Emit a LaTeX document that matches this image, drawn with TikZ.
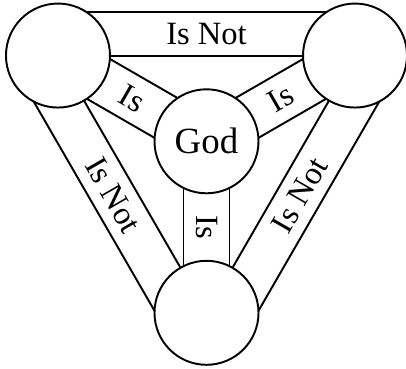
\documentclass[tikz,border=0pt]{standalone}
\usepackage{fontspec}
\setmainfont{Liberation Serif}
\usetikzlibrary{calc,backgrounds}

\begin{document}
\begin{tikzpicture}[
  ring/.style={draw, circle, line width=1.1pt, fill=white, minimum size=2.08cm, inner sep=0pt},
  band/.style={line width=1.1pt},
  lbl/.style={font=\fontsize{18.5}{20}\selectfont, inner sep=0pt}
]
\useasboundingbox (-4.13,-4.534) rectangle (3.99,2.826);
\node[ring, font=\fontsize{21}{24}\selectfont] (god) at (0,0) {God};
\node[ring] (left) at (150:3.43) {};
\node[ring] (right) at (30:3.43) {};
\node[ring] (bottom) at (270:3.43) {};
\begin{pgfonlayer}{background}
\draw[band] (left.center) -- (right.center);
\draw[band] ($(left.center)+(90:0.88)$) -- ($(right.center)+(90:0.88)$);
\draw[band] (left.center) -- (bottom.center);
\draw[band] ($(left.center)+(210:0.88)$) -- ($(bottom.center)+(210:0.88)$);
\draw[band] (right.center) -- (bottom.center);
\draw[band] ($(right.center)+(330:0.88)$) -- ($(bottom.center)+(330:0.88)$);
\draw[band] ($(left.center)+(60:0.46)$) -- ($(god.center)+(60:0.46)$);
\draw[band] ($(left.center)+(240:0.46)$) -- ($(god.center)+(240:0.46)$);
\draw[band] ($(right.center)+(120:0.46)$) -- ($(god.center)+(120:0.46)$);
\draw[band] ($(right.center)+(300:0.46)$) -- ($(god.center)+(300:0.46)$);
\draw[band] ($(bottom.center)+(0:0.46)$) -- ($(god.center)+(0:0.46)$);
\draw[band] ($(bottom.center)+(180:0.46)$) -- ($(god.center)+(180:0.46)$);
\end{pgfonlayer}
\node[lbl] (topnot) at ($(left.center)!0.5!(right.center)+(90:0.44)$) {Is Not};
\node[lbl, rotate=-60] (leftnot) at ($(left.center)!0.5!(bottom.center)+(210:0.44)$) {Is Not};
\node[lbl, rotate=60] (rightnot) at ($(right.center)!0.5!(bottom.center)+(330:0.44)$) {Is Not};
\node[lbl, rotate=-30] (leftis) at ($(left.center)!0.5!(god.center)$) {Is};
\node[lbl, rotate=30] (rightis) at ($(right.center)!0.5!(god.center)$) {Is};
\node[lbl, rotate=-90] (bottomis) at ($(bottom.center)!0.5!(god.center)$) {Is};
\end{tikzpicture}
\end{document}
